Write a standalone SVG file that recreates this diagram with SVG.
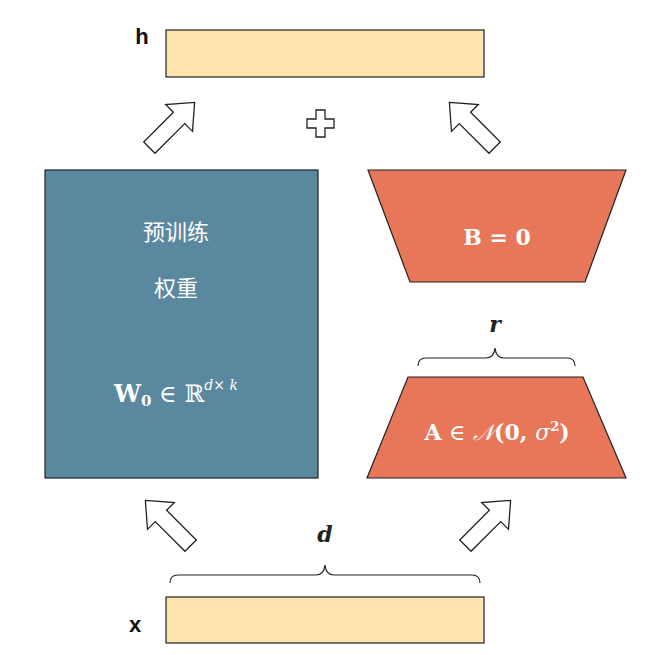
<svg xmlns="http://www.w3.org/2000/svg" width="655" height="655" viewBox="0 0 655 655">
<style>
.bar{fill:#fde3ae;stroke:#222;stroke-width:1.2}
.trap{fill:#e8775a;stroke:#222;stroke-width:1.2}
.arr{fill:#fff;stroke:#222;stroke-width:1.3;stroke-linejoin:miter}
.brace{fill:none;stroke:#222;stroke-width:1.2}
.m{font-family:"DejaVu Serif","Liberation Serif",serif;font-weight:bold;fill:#fff}
.mi{font-family:"DejaVu Serif","Liberation Serif",serif;font-style:italic;font-weight:bold;fill:#222}
.cn{font-family:"Noto Sans CJK SC","Noto Sans",sans-serif;font-size:22px;fill:#fff}
.lbl{font-family:"Liberation Sans",Arial,sans-serif;font-size:22px;font-weight:bold;fill:#111}
</style>
<defs>
<path id="ba" class="arr" d="M0,-32 L19,-10 L8,-10 L8,32 L-8,32 L-8,-10 L-19,-10 Z"/>
</defs>
<rect width="655" height="655" fill="#fff"/>
<g id="h">
<rect class="bar" x="166" y="30" width="318" height="47"/>
<text class="lbl" x="142" y="44" text-anchor="middle">h</text>
</g>
<g id="x">
<rect class="bar" x="166" y="597" width="318" height="46"/>
<text class="lbl" x="135" y="632" text-anchor="middle">x</text>
</g>
<g id="W">
<rect x="45" y="170" width="273" height="308" fill="#5a889f" stroke="#222" stroke-width="1.2"/>
<text class="cn" x="176" y="240" text-anchor="middle">预训练</text>
<text class="cn" x="176" y="296" text-anchor="middle">权重</text>
<text class="m" x="176" y="402" text-anchor="middle" font-size="24">W<tspan font-size="15" dy="4">0</tspan><tspan dy="-4" font-weight="normal"> ∈ ℝ</tspan><tspan font-size="14" dy="-12" font-style="italic" font-weight="normal">d× k</tspan></text>
</g>
<g id="B">
<polygon class="trap" points="368,170 626,170 585,282 410,282"/>
<text class="m" x="497" y="245" text-anchor="middle" font-size="22">B = 0</text>
</g>
<g id="A">
<polygon class="trap" points="408,377 583,377 626,478 367,478"/>
<text class="m" x="497" y="440" text-anchor="middle" font-size="22">A <tspan font-weight="normal">∈</tspan> <tspan font-style="italic" font-weight="normal">𝒩</tspan>(0, <tspan font-style="italic" font-weight="normal">σ</tspan><tspan font-size="13" dy="-9">2</tspan><tspan dy="9">)</tspan></text>
</g>
<g id="connectors">
<use href="#ba" transform="translate(172,125) rotate(45)"/>
<use href="#ba" transform="translate(472,125) rotate(-45)"/>
<use href="#ba" transform="translate(168,523) rotate(-45)"/>
<use href="#ba" transform="translate(488,523) rotate(45)"/>
<path class="arr" d="M316,110 h9 v9 h9 v9 h-9 v9 h-9 v-9 h-9 v-9 h9 Z" stroke-width="2"/>
<path class="brace" d="M418,366 q0,-8 8,-8 h60 q8,0 9,-10 q1,10 9,10 h63 q8,0 8,8"/>
<path class="brace" d="M170,583 q0,-8 8,-8 h138 q8,0 9,-10 q1,10 9,10 h138 q8,0 8,8"/>
<text class="mi" x="495" y="332" text-anchor="middle" font-size="22">r</text>
<text class="mi" x="325" y="542" text-anchor="middle" font-size="22">d</text>
</g>
</svg>
